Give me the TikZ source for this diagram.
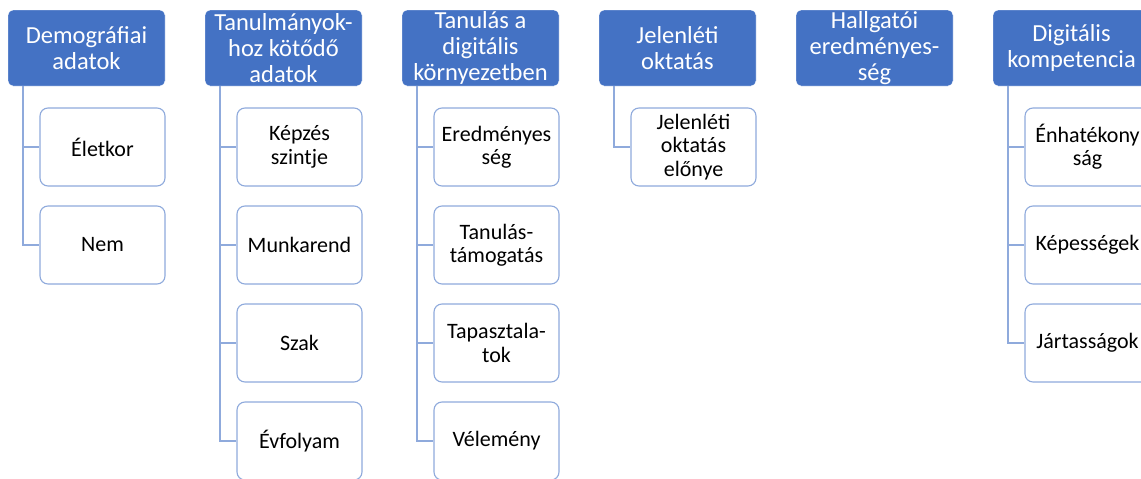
\documentclass[tikz,border=0pt]{standalone}
\usepackage{fontspec}
\setmainfont{Carlito}
\usetikzlibrary{positioning}

\definecolor{hdrblue}{HTML}{4472C4}
\definecolor{lineblue}{HTML}{8FAADC}

\tikzset{
    hdr/.style={draw=white, fill=hdrblue, rounded corners=5pt, minimum width=157pt,
        minimum height=76pt, inner sep=0pt, align=center, text=white,
        font=\fontsize{24.5}{26}\selectfont},
    item/.style={draw=lineblue, fill=white, line width=1.1pt, rounded corners=8pt,
        minimum width=125pt, minimum height=78pt, inner sep=0pt, align=center,
        font=\fontsize{22}{23.3}\selectfont},
    link/.style={draw=lineblue, line width=1.4pt}
}

\begin{document}
\begin{tikzpicture}[x=1pt, y=-1pt]

        %
        \useasboundingbox (0,0) rectangle (1141,479);
        \clip (0,0) rectangle (1141,479);

        %
        \node[hdr] (demo) at (86.5,48) {Demográfiai\\adatok};
        \node[hdr] (tanulm) at (283.5,48) {Tanulmányok-\\hoz kötődő\\adatok};
        \node[hdr] (digkorny) at (480.5,48) {Tanulás a\\digitális\\környezetben};
        \node[hdr] (jelen) at (677.5,48) {Jelenléti\\oktatás};
        \node[hdr] (hallg) at (874.5,48) {Hallgatói\\eredményes-\\ség};
        \node[hdr] (digkomp) at (1071.5,48) {Digitális\\kompetencia};

        %
        \coordinate (t1) at (23,86);
        \coordinate (t2) at (220,86);
        \coordinate (t3) at (417,86);
        \coordinate (t4) at (614,86);
        \coordinate (t6) at (1008,86);

        %
        \node[item] (eletkor) at (102.5,147) {Életkor};
        \node[item] (nem) at (102.5,245) {Nem};

        %
        \node[item] (kepzes) at (299.5,147) {Képzés\\szintje};
        \node[item] (munka) at (299.5,245) {Munkarend};
        \node[item] (szak) at (299.5,343) {Szak};
        \node[item] (evf) at (299.5,441) {Évfolyam};

        %
        \node[item] (ered) at (496.5,147) {Eredményes\\ség};
        \node[item] (tamog) at (496.5,245) {Tanulás-\\támogatás};
        \node[item] (tapaszt) at (496.5,343) {Tapasztala-\\tok};
        \node[item] (velem) at (496.5,441) {Vélemény};

        %
        \node[item] (elony) at (693.5,147) {Jelenléti\\oktatás\\előnye};

        %
        \node[item] (onhat) at (1087.5,147) {Énhatékony\\ság};
        \node[item] (kepes) at (1087.5,245) {Képességek};
        \node[item] (jart) at (1087.5,343) {Jártasságok};

        %
        \draw[link] (t1) |- (eletkor.west);
        \draw[link] (t1) |- (nem.west);

        \draw[link] (t2) |- (kepzes.west);
        \draw[link] (t2) |- (munka.west);
        \draw[link] (t2) |- (szak.west);
        \draw[link] (t2) |- (evf.west);

        \draw[link] (t3) |- (ered.west);
        \draw[link] (t3) |- (tamog.west);
        \draw[link] (t3) |- (tapaszt.west);
        \draw[link] (t3) |- (velem.west);

        \draw[link] (t4) |- (elony.west);

        \draw[link] (t6) |- (onhat.west);
        \draw[link] (t6) |- (kepes.west);
        \draw[link] (t6) |- (jart.west);

    \end{tikzpicture}
\end{document}
